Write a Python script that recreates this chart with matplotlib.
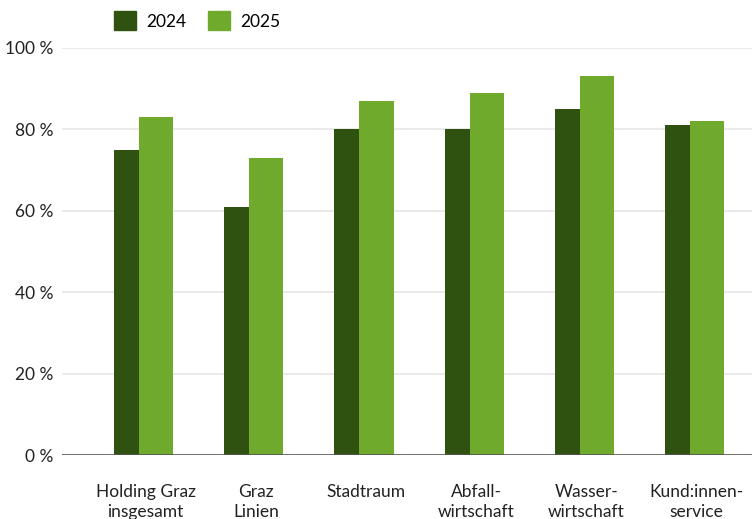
import numpy as np
import matplotlib.pyplot as plt
from matplotlib.patches import Patch

# --- data ---
categories = ["Holding Graz\ninsgesamt", "Graz\nLinien", "Stadtraum",
              "Abfall-\nwirtschaft", "Wasser-\nwirtschaft", "Kund:innen-\nservice"]
v2024 = [75, 61, 80, 80, 85, 81]
v2025 = [83, 73, 87, 89, 93, 82]
yticks = [0, 20, 40, 60, 80, 100]

dark = "#2f5210"
light = "#6faa2c"

plt.rcParams['font.family'] = ['Lato', 'DejaVu Sans']

fig = plt.figure(figsize=(7.52, 5.19), dpi=100)
ax = fig.add_axes([62 / 752, 64 / 519, 1 - 62 / 752, (455 - 48) / 519])

x = np.arange(len(categories))
w_dark = 0.227
w_light = 0.31
ax.bar(x, v2024, width=-w_dark, align='edge', color=dark, zorder=3)
ax.bar(x, v2025, width=w_light, align='edge', color=light, zorder=3)

ax.set_ylim(0, 100)
ax.set_xlim(-0.699, 5.563)
ax.set_yticks(yticks)
ax.set_yticklabels([f"{t} %" for t in yticks], fontsize=12.5, color="#222222")
ax.set_xticks(x + 0.06)
ax.set_xticklabels(categories, fontsize=12.5, color="#222222", linespacing=1.3, va='top')
ax.tick_params(axis='both', length=0)
ax.tick_params(axis='x', pad=21)
ax.tick_params(axis='y', pad=6)

for t in yticks[1:]:
    ax.axhline(t, color="#e6e6e6", lw=1.2, zorder=1)
ax.axhline(0, color="#555555", lw=1.2, zorder=4)

for s in ax.spines.values():
    s.set_visible(False)

handles = [Patch(color=dark, label="2024"), Patch(color=light, label="2025")]
fig.legend(handles=handles, loc='upper left', bbox_to_anchor=(98 / 752, 1.008), ncol=2,
           frameon=False, fontsize=12.5, handlelength=1.3, handleheight=1.3,
           handletextpad=0.6, columnspacing=1.2)

fig.savefig("out.png", dpi=100)
